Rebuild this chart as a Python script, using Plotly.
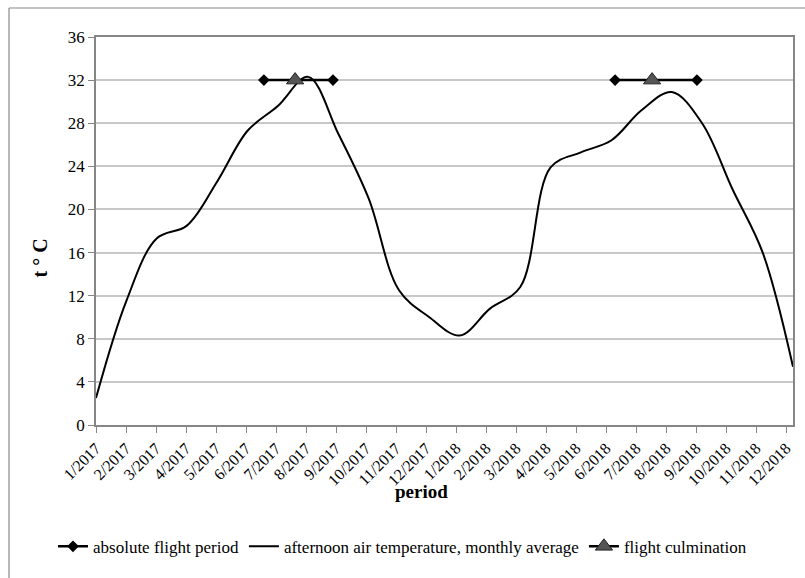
import plotly.graph_objects as go

# Month labels along the x axis
months = ["1/2017", "2/2017", "3/2017", "4/2017", "5/2017", "6/2017", "7/2017",
          "8/2017", "9/2017", "10/2017", "11/2017", "12/2017",
          "1/2018", "2/2018", "3/2018", "4/2018", "5/2018", "6/2018", "7/2018",
          "8/2018", "9/2018", "10/2018", "11/2018", "12/2018"]

# Afternoon air temperature, monthly average (°C)
temperature = [2.5, 11.5, 17.3, 18.5, 22.6, 27.3, 29.6, 32.3, 27.0, 21.0, 12.5, 10.0,
               8.3, 10.8, 12.8, 23.9, 25.3, 26.4, 29.2, 30.9, 28.0, 21.9, 16.0, 5.4]

# Absolute flight period (start / end as fractional month index), drawn at 32 °C
flight_start = [5.54, 17.13]
flight_end = [7.82, 19.83]
flight_level = 32

# Flight culmination (fractional month index)
culmination_x = [6.57, 18.35]

# month tick marks sit on calendar month starts, slightly tighter than the data spacing
tick_step = 0.99

serif = "Liberation Serif"

fig = go.Figure()

fig.add_trace(go.Scatter(
    x=list(range(len(months))), y=temperature,
    mode="lines", line=dict(color="black", width=2, shape="spline", smoothing=1.0),
    name="afternoon air temperature, monthly average",
    legendrank=2,
))

fx, fy = [], []
for s, e in zip(flight_start, flight_end):
    fx += [s, e, None]
    fy += [flight_level, flight_level, None]
fig.add_trace(go.Scatter(
    x=fx, y=fy, mode="lines+markers",
    line=dict(color="black", width=2.5),
    marker=dict(symbol="diamond", size=9, color="black"),
    name="absolute flight period",
    legendrank=1,
))

cx, cy = [], []
for c in culmination_x:
    cx += [c, None]
    cy += [flight_level, None]
fig.add_trace(go.Scatter(
    x=cx, y=cy, mode="lines+markers",
    line=dict(color="black", width=2.5),
    marker=dict(symbol="triangle-up", size=15, color="#555555",
                line=dict(color="#222222", width=1)),
    name="flight culmination",
    legendrank=3,
))

frame = dict(color="#888888", width=1.2)

fig.update_layout(
    width=805, height=578,
    margin=dict(l=96, r=12, t=37, b=153, autoexpand=False),
    paper_bgcolor="white", plot_bgcolor="white",
    font=dict(family=serif, color="black", size=17),
    showlegend=True,
    legend=dict(orientation="h", xref="container", yref="container",
                x=0.5, xanchor="center", y=0.054, yanchor="middle",
                font=dict(family=serif, size=17), traceorder="normal",
                itemwidth=30, tracegroupgap=0),
    xaxis=dict(
        range=[0, len(months) - 1],
        tickmode="array",
        tickvals=[k * tick_step for k in range(len(months))], ticktext=months,
        tickangle=-45, tickfont=dict(family=serif, size=16),
        ticks="outside", ticklen=6, tickcolor="#868686",
        showline=True, linecolor="#868686", linewidth=1.5, mirror=True,
        showgrid=False, zeroline=False,
    ),
    yaxis=dict(
        range=[0, 36], tickmode="linear", dtick=4,
        tickfont=dict(family=serif, size=17),
        ticks="outside", ticklen=6, tickcolor="#868686",
        showline=True, linecolor="#868686", linewidth=1.5, mirror=True,
        showgrid=True, gridcolor="#c8c8c8", gridwidth=1.5, zeroline=False,
    ),
    annotations=[
        dict(text="<b>t ° C</b>", xref="paper", yref="paper", x=-0.08, y=0.43,
             xanchor="center", yanchor="middle",
             textangle=-90, showarrow=False, font=dict(family=serif, size=20)),
        dict(text="<b>period</b>", xref="paper", yref="paper", x=0.467, y=-0.172,
             xanchor="center", yanchor="middle",
             showarrow=False, font=dict(family=serif, size=19)),
    ],
    # outer chart frame: top and left edges (the rest runs off the page)
    shapes=[
        dict(type="line", xref="paper", yref="paper",
             x0=-0.1248, x1=1.05, y0=1.0747, y1=1.0747, line=frame, layer="below"),
        dict(type="line", xref="paper", yref="paper",
             x0=-0.1248, x1=-0.1248, y0=-0.45, y1=1.0747, line=frame, layer="below"),
    ],
)

fig.write_html("out.html")
